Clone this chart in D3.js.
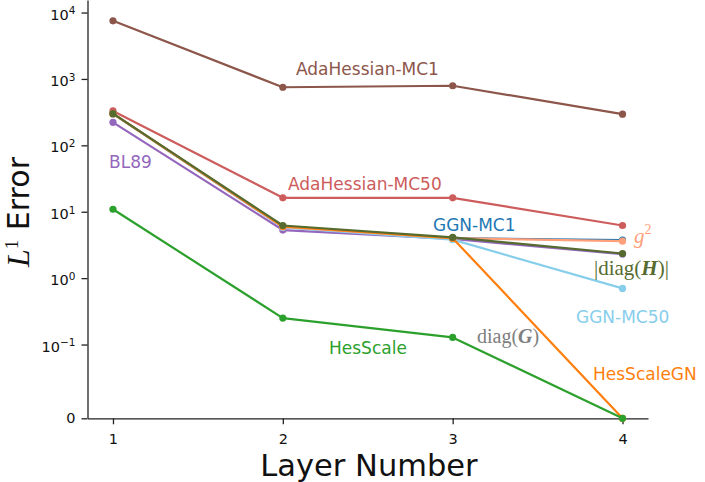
<!DOCTYPE html>
<html><head><meta charset="utf-8">
<script src="https://cdn.jsdelivr.net/npm/d3@7/dist/d3.min.js"></script>
<style>body{margin:0;background:#fff}</style>
</head><body>
<svg id="chart" width="705" height="482"></svg>
<script>
// ---- data ----
const layers = [1, 2, 3, 4];
const xTickLabels = ["1", "2", "3", "4"];
const yTickValues = [0, 0.1, 1, 10, 100, 1000, 10000];
const yTickBase = ["0", "10", "10", "10", "10", "10", "10"];
const yTickExp = ["", "−1", "0", "1", "2", "3", "4"];
const adaHessianMC1 = [7500, 750, 790, 295];
const adaHessianMC50 = [330, 16.2, 16.2, 6.2];
const bl89 = [222, 5.3, 3.9, 2.3];
const ggnMC1 = [300, 5.9, 4.0, 3.75];
const ggnMC50 = [300, 5.8, 3.8, 0.70];
const gSquared = [300, 5.9, 4.0, 3.6];
const hesScaleGN = [300, 6.0, 4.0, 0];
const hesScale = [10.9, 0.25, 0.128, 0];
const diagH = [300, 6.2, 4.1, 2.35];

// ---- layout / styles ----
const series = [
  {values: adaHessianMC1, color: "#8c564b"},
  {values: adaHessianMC50, color: "#cd5c5c"},
  {values: bl89, color: "#9467bd"},
  {values: ggnMC1, color: "#1f77b4"},
  {values: ggnMC50, color: "#87ceeb"},
  {values: gSquared, color: "#ffa07a"},
  {values: hesScaleGN, color: "#ff7f0e"},
  {values: hesScale, color: "#2ca02c"},
  {values: diagH, color: "#556b2f"}
];

const svg = d3.select("#chart");
const left = 87.5, right = 648, bottom = 418.3;

// matplotlib-style symlog (linthresh 0.1, linscale 1)
const linthresh = 0.1, linscaleAdj = 1 / (1 - 1 / 10);
function symT(v) {
  const a = Math.abs(v), s = Math.sign(v);
  if (a <= linthresh) return v / linthresh * linscaleAdj;
  return s * (linscaleAdj + Math.log10(a / linthresh));
}
const x = d3.scaleLinear().domain([0.85, 4.15]).range([left, right]);
const yT = d3.scaleLinear().domain([0, 6.30]).range([bottom, 0]);
const y = v => yT(symT(v));

// axes
const gx = svg.append("g").attr("transform", `translate(0,${bottom})`)
  .call(d3.axisBottom(x).tickValues(layers).tickFormat((d, i) => xTickLabels[i])
    .tickSize(6).tickSizeOuter(0).tickPadding(9.5));
const gy = svg.append("g").attr("transform", `translate(${left},0)`)
  .call(d3.axisLeft(yT).tickValues(yTickValues.map(symT)).tickFormat("")
    .tickSize(6).tickSizeOuter(0).tickPadding(6));
[gx, gy].forEach(g => {
  g.select(".domain").attr("stroke", "#222").attr("stroke-width", 1.3);
  g.selectAll(".tick line").attr("stroke", "#222").attr("stroke-width", 1.3);
  g.selectAll("text").attr("font-family", "DejaVu Sans").attr("font-size", 14.5).attr("fill", "#111");
});
gy.selectAll(".tick").each(function(d, i) {
  const t = d3.select(this).append("text")
    .attr("x", -12).attr("dy", yTickExp[i] ? "0.45em" : "0.32em")
    .attr("text-anchor", "end").attr("font-family", "DejaVu Sans")
    .attr("font-size", 14.5).attr("fill", "#111");
  t.append("tspan").text(yTickBase[i]);
  if (yTickExp[i]) t.append("tspan").attr("dy", "-0.5em").attr("font-size", 10.5).text(yTickExp[i]);
});

// lines
const line = d3.line().x((d, i) => x(layers[i])).y(d => y(d));
series.forEach(s => {
  svg.append("path").datum(s.values).attr("d", line)
    .attr("fill", "none").attr("stroke", s.color).attr("stroke-width", 2.2)
    .attr("stroke-linejoin", "round");
  svg.append("g").selectAll("circle").data(s.values).join("circle")
    .attr("cx", (d, i) => x(layers[i])).attr("cy", d => y(d)).attr("r", 3.6)
    .attr("fill", s.color);
});

// labels
function sansLabel(txt, px, py, color) {
  svg.append("text").attr("x", px).attr("y", py).attr("font-family", "DejaVu Sans")
    .attr("font-size", 17).attr("fill", color).text(txt);
}
sansLabel("AdaHessian-MC1", 296, 74.5, "#8c564b");
sansLabel("AdaHessian-MC50", 288, 189.5, "#cd5c5c");
sansLabel("BL89", 109, 168, "#9467bd");
sansLabel("GGN-MC1", 433, 230.5, "#1f77b4");
sansLabel("GGN-MC50", 576, 322.5, "#87ceeb");
sansLabel("HesScaleGN", 593, 380, "#ff7f0e");
sansLabel("HesScale", 329, 354, "#2ca02c");

const serif = "Liberation Serif";
// g^2
const g2 = svg.append("text").attr("x", 634).attr("y", 243).attr("font-family", serif)
  .attr("font-size", 21).attr("fill", "#ffa07a");
g2.append("tspan").attr("font-style", "italic").text("g");
g2.append("tspan").attr("dy", -9).attr("font-size", 14).text("2");
// |diag(H)|
const dh = svg.append("text").attr("x", 594).attr("y", 275).attr("font-family", serif)
  .attr("font-size", 21).attr("fill", "#556b2f");
dh.append("tspan").text("|diag(");
dh.append("tspan").attr("font-style", "italic").attr("font-weight", "bold").text("H");
dh.append("tspan").text(")|");
// diag(G)
const dg = svg.append("text").attr("x", 477).attr("y", 343).attr("font-family", serif)
  .attr("font-size", 20).attr("fill", "#808080");
dg.append("tspan").text("diag(");
dg.append("tspan").attr("font-style", "italic").attr("font-weight", "bold").text("G");
dg.append("tspan").text(")");

// axis titles
svg.append("text").attr("x", 369).attr("y", 476).attr("text-anchor", "middle")
  .attr("font-family", "DejaVu Sans").attr("font-size", 30.5).attr("fill", "#111")
  .text("Layer Number");
const yl = svg.append("text").attr("transform", "translate(28.5,212) rotate(-90)")
  .attr("text-anchor", "middle").attr("fill", "#111").attr("font-size", 30);
yl.append("tspan").attr("font-family", serif).attr("font-style", "italic").attr("font-size", 32).text("L");
yl.append("tspan").attr("font-family", serif).attr("font-size", 19).attr("dy", -11).text("1");
yl.append("tspan").attr("font-family", "DejaVu Sans").attr("dy", 11).text(" Error");
</script>
</body></html>
